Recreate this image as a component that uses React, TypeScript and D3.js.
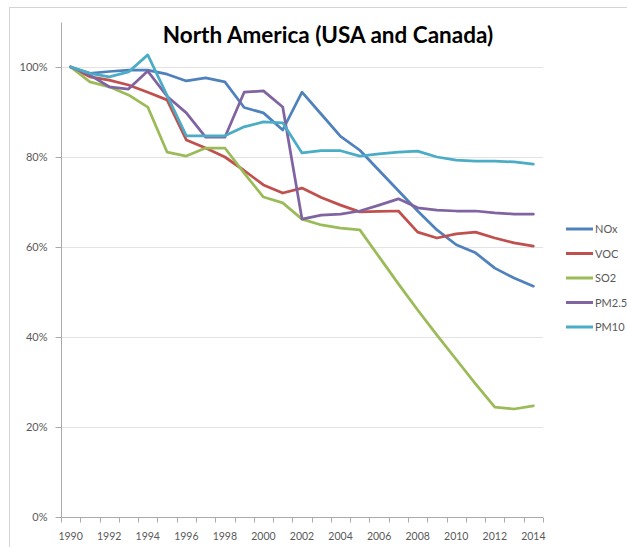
import * as d3 from "d3"
import React, { useRef, useEffect } from "react"

const years = d3.range(1990, 2015).map(String)
const yTicks = [0, 0.2, 0.4, 0.6, 0.8, 1.0]

// percent of 1990 level
const nox = [100, 98.6, 99, 99.3, 99.3, 98.4, 96.9, 97.6, 96.7, 91, 89.8, 86, 94.4, 89.5, 84.6, 81.5, 77, 72.5, 68, 63.8, 60.5, 58.7, 55.3, 53.1, 51.3]
const voc = [100, 97.8, 97.1, 96, 94.4, 92.7, 83.8, 82, 80, 77, 73.8, 72, 73.1, 71, 69.3, 67.8, 67.9, 68, 63.3, 62, 62.9, 63.3, 62, 60.9, 60.2]
const so2 = [100, 96.7, 95.6, 93.8, 91.1, 81.1, 80.2, 82, 82, 76.4, 71.1, 69.8, 66.2, 64.9, 64.2, 63.8, 57.8, 51.8, 46, 40.4, 35, 29.6, 24.4, 24, 24.7]
const pm25 = [100, 98.2, 95.6, 95.1, 99.1, 93.5, 89.8, 84.4, 84.4, 94.4, 94.7, 91.1, 66.2, 67.1, 67.3, 68, 69.3, 70.7, 68.7, 68.2, 68, 68, 67.6, 67.3, 67.3]
const pm10 = [100, 98.6, 97.8, 98.9, 102.7, 93.7, 84.7, 84.7, 84.7, 86.7, 87.8, 87.6, 80.9, 81.4, 81.4, 80.2, 80.7, 81.1, 81.3, 80, 79.3, 79.1, 79.1, 78.9, 78.4]

const seriesNames = ["NOx", "VOC", "SO2", "PM2.5", "PM10"]
const seriesValues = [nox, voc, so2, pm25, pm10]
const colors = ["#4f81bd", "#c0504d", "#9bbb59", "#8064a2", "#4bacc6"]

function App() {
  const ref = useRef<SVGSVGElement>(null)

  useEffect(() => {
    const width = 627,
      height = 547
    const svg = d3.select(ref.current)
    svg.selectAll("*").remove()
    svg.attr("width", width).attr("height", height)

    const font = "Lato, 'Open Sans', sans-serif"
    const textColor = "#595959"

    // outer frame (chart border, cropped)
    svg.append("line").attr("x1", 9).attr("x2", width).attr("y1", 7.5).attr("y2", 7.5).attr("stroke", "#d4d4d4")
    svg.append("line").attr("x1", 9.5).attr("x2", 9.5).attr("y1", 7).attr("y2", height).attr("stroke", "#d4d4d4")

    const x = d3.scaleBand().domain(years).range([61, 543])
    const y = d3.scaleLinear().domain([0, 1.1]).range([517, 22])
    const cx = (yr: string) => (x(yr) as number) + x.bandwidth() / 2

    // gridlines
    svg
      .append("g")
      .selectAll("line")
      .data(yTicks.slice(1))
      .enter()
      .append("line")
      .attr("x1", 61)
      .attr("x2", 543)
      .attr("y1", (d) => Math.round(y(d)) + 0.5)
      .attr("y2", (d) => Math.round(y(d)) + 0.5)
      .attr("stroke", "#e3e3e3")

    // y axis
    const yAxis = svg.append("g").attr("transform", "translate(61.5,0.5)")
    yAxis.append("line").attr("x1", 0).attr("x2", 0).attr("y1", y(1.1)).attr("y2", y(0)).attr("stroke", "#aaaaaa")
    yAxis
      .selectAll("line.tick")
      .data(yTicks)
      .enter()
      .append("line")
      .attr("class", "tick")
      .attr("x1", -6)
      .attr("x2", 0)
      .attr("y1", (d) => Math.round(y(d)))
      .attr("y2", (d) => Math.round(y(d)))
      .attr("stroke", "#aaaaaa")
    yAxis
      .selectAll("text")
      .data(yTicks)
      .enter()
      .append("text")
      .attr("x", -14)
      .attr("y", (d) => y(d) + 3.5)
      .attr("text-anchor", "end")
      .style("font", `11px ${font}`)
      .style("fill", textColor)
      .text((d) => d3.format(".0%")(d))

    // x axis
    const xAxis = svg.append("g").attr("transform", "translate(0,517.5)")
    xAxis.append("line").attr("x1", 61).attr("x2", 543).attr("y1", 0).attr("y2", 0).attr("stroke", "#aaaaaa")
    const bounds = years.map((yr) => x(yr) as number).concat([543])
    xAxis
      .selectAll("line.tick")
      .data(bounds)
      .enter()
      .append("line")
      .attr("class", "tick")
      .attr("x1", (d) => Math.round(d) + 0.5)
      .attr("x2", (d) => Math.round(d) + 0.5)
      .attr("y1", 0)
      .attr("y2", 5)
      .attr("stroke", "#aaaaaa")
    xAxis
      .selectAll("text")
      .data(years.filter((_, i) => i % 2 === 0))
      .enter()
      .append("text")
      .attr("x", (d) => cx(d))
      .attr("y", 22)
      .attr("text-anchor", "middle")
      .style("font", `10.5px ${font}`)
      .style("fill", textColor)
      .text((d) => d)

    // lines
    const line = d3
      .line<number>()
      .x((_, i) => cx(years[i]))
      .y((d) => y(d / 100))

    svg
      .append("g")
      .selectAll("path")
      .data(seriesValues)
      .enter()
      .append("path")
      .attr("d", (d) => line(d))
      .attr("fill", "none")
      .attr("stroke", (_, i) => colors[i])
      .attr("stroke-width", 2.75)
      .attr("stroke-linejoin", "round")
      .attr("stroke-linecap", "round")

    // title
    svg
      .append("text")
      .attr("x", 328)
      .attr("y", 43)
      .attr("text-anchor", "middle")
      .style("font", `bold 22.5px ${font}`)
      .style("fill", "#000")
      .text("North America (USA and Canada)")

    // legend
    const legend = svg
      .append("g")
      .selectAll("g")
      .data(seriesNames)
      .enter()
      .append("g")
      .attr("transform", (_, i) => `translate(566,${229 + i * 24.5})`)
    legend
      .append("line")
      .attr("x1", 0)
      .attr("x2", 27)
      .attr("stroke", (_, i) => colors[i])
      .attr("stroke-width", 3)
    legend
      .append("text")
      .attr("x", 29)
      .attr("y", 4)
      .style("font", `11px ${font}`)
      .style("fill", textColor)
      .text((d) => d)
  }, [])

  return (
    <div style={{ position: "absolute", left: 0, top: 0, background: "#fff" }}>
      <svg ref={ref} style={{ display: "block" }}></svg>
    </div>
  )
}

export default App
